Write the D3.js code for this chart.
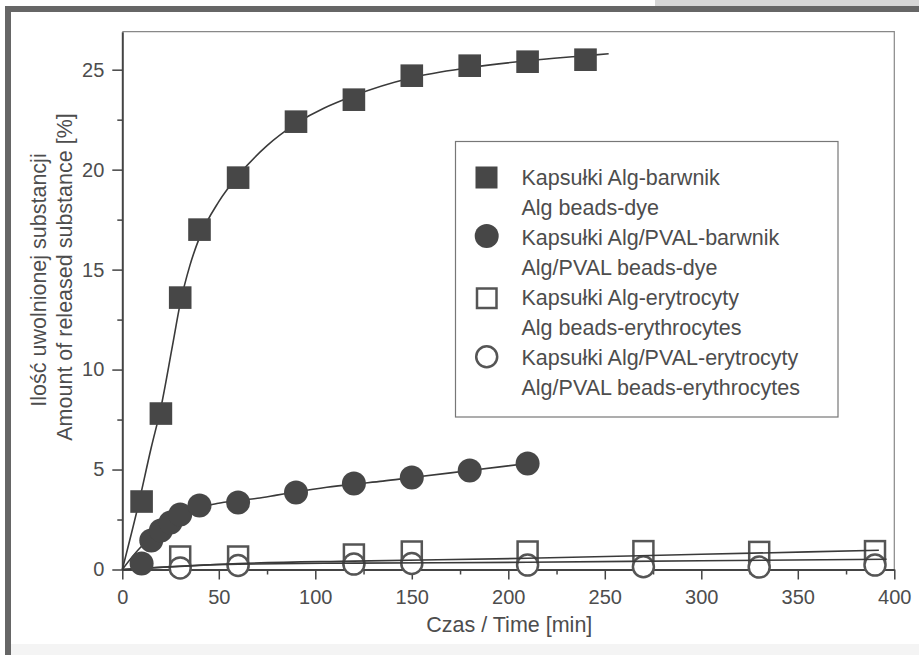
<!DOCTYPE html>
<html>
<head>
<meta charset="utf-8">
<script src="https://cdn.jsdelivr.net/npm/d3@7"></script>
<style>
  body { margin: 0; background: #fff; }
  text { font-family: "Liberation Sans", Arial, sans-serif; fill: #4d4d4d; }
</style>
</head>
<body>
<div id="chart"></div>
<script>
// Kapsulki Alg - barwnik (filled squares)
var algDyeTime = [10, 20, 30, 40, 60, 90, 120, 150, 180, 210, 240];
var algDyeVal = [3.4, 7.8, 13.6, 17.0, 19.6, 22.4, 23.5, 24.7, 25.2, 25.4, 25.5];

// Kapsulki Alg/PVAL - barwnik (filled circles)
var pvalDyeTime = [10, 15, 20, 25, 30, 40, 60, 90, 120, 150, 180, 210];
var pvalDyeVal = [0.3, 1.45, 1.95, 2.35, 2.75, 3.2, 3.35, 3.85, 4.3, 4.6, 4.95, 5.3];

// Kapsulki Alg - erytrocyty (open squares)
var algEryTime = [30, 60, 120, 150, 210, 270, 330, 390];
var algEryVal = [0.65, 0.65, 0.75, 0.9, 0.9, 0.92, 0.88, 0.92];

// Kapsulki Alg/PVAL - erytrocyty (open circles)
var pvalEryTime = [30, 60, 120, 150, 210, 270, 330, 390];
var pvalEryVal = [0.08, 0.2, 0.27, 0.3, 0.22, 0.14, 0.12, 0.22];

// fitted curves as drawn in the figure
var algDyeFitTime = [0, 8, 15, 20, 26, 30, 35, 40, 50, 60, 75, 90, 120, 150, 180, 210, 240, 252];
var algDyeFitVal = [0, 3.1, 6.1, 8.1, 11.2, 13.3, 15.2, 16.6, 18.4, 19.7, 21.2, 22.3, 23.7, 24.6, 25.1, 25.45, 25.7, 25.8];
var pvalDyeFitTime = [0, 9, 15, 20, 25, 30, 40, 49, 60, 70, 80, 90, 106, 120, 135, 150, 180, 210];
var pvalDyeFitVal = [0, 1.06, 1.6, 2.0, 2.4, 2.7, 3.1, 3.3, 3.45, 3.56, 3.72, 3.88, 4.11, 4.27, 4.42, 4.6, 4.95, 5.3];
var algEryFitTime = [0, 60, 120, 210, 300, 392];
var algEryFitVal = [0, 0.3, 0.42, 0.56, 0.76, 0.96];
var pvalEryFitTime = [0, 60, 120, 210, 300, 396];
var pvalEryFitVal = [0, 0.27, 0.32, 0.36, 0.44, 0.51];

var legendLines = [
    "Kapsułki Alg-barwnik", "Alg beads-dye",
    "Kapsułki Alg/PVAL-barwnik", "Alg/PVAL beads-dye",
    "Kapsułki Alg-erytrocyty", "Alg beads-erythrocytes",
    "Kapsułki Alg/PVAL-erytrocyty", "Alg/PVAL beads-erythrocytes"
];

var svgWidth = 919;
var svgHeight = 655;

var margin = { top: 31.7, left: 122.3, right: 24.7, bottom: 85.5 };
var width = svgWidth - margin.left - margin.right;
var height = svgHeight - margin.top - margin.bottom;

var svg = d3.select("#chart")
    .append("svg")
    .attr("width", svgWidth)
    .attr("height", svgHeight);

// scan border bits
svg.append("rect").attr("x", 655).attr("y", 0).attr("width", 264).attr("height", 6).attr("fill", "#d6d6d6");
svg.append("rect").attr("x", 5).attr("y", 6).attr("width", 914).attr("height", 6).attr("fill", "#666");
svg.append("rect").attr("x", 5).attr("y", 6).attr("width", 6).attr("height", 649).attr("fill", "#666");
svg.append("rect").attr("x", 11).attr("y", 644).attr("width", 908).attr("height", 11).attr("fill", "#f4f4f4");

var chartGroup = svg.append("g")
    .attr("transform", `translate(${margin.left}, ${margin.top})`);

var xScale = d3.scaleLinear().domain([0, 400]).range([0, width]);
var yScale = d3.scaleLinear().domain([0, 26.9]).range([height, 0]);

// top and right frame
chartGroup.append("path")
    .attr("d", `M0,0H${width}V${height}`)
    .attr("fill", "none")
    .attr("stroke", "#888")
    .attr("stroke-width", 1.2);

// minor ticks
chartGroup.append("g")
    .attr("transform", `translate(0, ${height})`)
    .call(d3.axisBottom(xScale).tickValues(d3.range(25, 400, 50)).tickSize(5).tickFormat(""))
    .call(g => g.select(".domain").remove())
    .selectAll("line").attr("stroke", "#444").attr("stroke-width", 1.5);
chartGroup.append("g")
    .call(d3.axisLeft(yScale).tickValues(d3.range(2.5, 26, 5)).tickSize(5).tickFormat(""))
    .call(g => g.select(".domain").remove())
    .selectAll("line").attr("stroke", "#444").attr("stroke-width", 1.5);

// major axes
var bottomAxis = d3.axisBottom(xScale).tickValues(d3.range(0, 401, 50)).tickSize(10).tickSizeOuter(0).tickPadding(10);
var leftAxis = d3.axisLeft(yScale).tickValues(d3.range(0, 26, 5)).tickSize(10).tickSizeOuter(0).tickPadding(8);

var xAxis = chartGroup.append("g")
    .attr("transform", `translate(0, ${height})`)
    .call(bottomAxis);
var yAxis = chartGroup.append("g")
    .call(leftAxis);

[xAxis, yAxis].forEach(function(ax) {
    ax.select(".domain").attr("stroke", "#444").attr("stroke-width", 2);
    ax.selectAll("line").attr("stroke", "#444").attr("stroke-width", 1.5);
    ax.selectAll("text")
        .style("font-size", "20px")
        .style("font-family", "'Liberation Sans', Arial, sans-serif")
        .attr("fill", "#4d4d4d");
});

// axis titles
chartGroup.append("text")
    .attr("x", width / 2 + 1)
    .attr("y", height + 63)
    .attr("text-anchor", "middle")
    .style("font-size", "21.5px")
    .text("Czas / Time [min]");

chartGroup.append("text")
    .attr("transform", "rotate(-90)")
    .attr("x", -(280 - margin.top))
    .attr("y", 46 - margin.left)
    .attr("text-anchor", "middle")
    .style("font-size", "21.5px")
    .text("Ilość uwolnionej substancji");

chartGroup.append("text")
    .attr("transform", "rotate(-90)")
    .attr("x", -(277 - margin.top))
    .attr("y", 72 - margin.left)
    .attr("text-anchor", "middle")
    .style("font-size", "21.5px")
    .text("Amount of released substance [%]");

function toPoints(times, vals) {
    return times.map((t, i) => [t, vals[i]]);
}

var line = d3.line()
    .x(d => xScale(d[0]))
    .y(d => yScale(d[1]))
    .curve(d3.curveMonotoneX);

// open markers first, erythrocyte fits over them
chartGroup.selectAll(".algEry")
    .data(toPoints(algEryTime, algEryVal))
    .enter()
    .append("rect")
    .attr("x", d => xScale(d[0]) - 10)
    .attr("y", d => yScale(d[1]) - 10)
    .attr("width", 20)
    .attr("height", 20)
    .attr("fill", "none")
    .attr("stroke", "#555")
    .attr("stroke-width", 2.5);

chartGroup.selectAll(".pvalEry")
    .data(toPoints(pvalEryTime, pvalEryVal))
    .enter()
    .append("circle")
    .attr("cx", d => xScale(d[0]))
    .attr("cy", d => yScale(d[1]))
    .attr("r", 10.5)
    .attr("fill", "#fff")
    .attr("stroke", "#555")
    .attr("stroke-width", 2.5);

[[algEryFitTime, algEryFitVal], [pvalEryFitTime, pvalEryFitVal],
 [algDyeFitTime, algDyeFitVal], [pvalDyeFitTime, pvalDyeFitVal]].forEach(function(f) {
    chartGroup.append("path")
        .datum(toPoints(f[0], f[1]))
        .attr("d", line)
        .attr("fill", "none")
        .attr("stroke", "#3a3a3a")
        .attr("stroke-width", 1.6);
});

// filled markers
chartGroup.selectAll(".pvalDye")
    .data(toPoints(pvalDyeTime, pvalDyeVal))
    .enter()
    .append("circle")
    .attr("cx", d => xScale(d[0]))
    .attr("cy", d => yScale(d[1]))
    .attr("r", 12)
    .attr("fill", "#474747");

chartGroup.selectAll(".algDye")
    .data(toPoints(algDyeTime, algDyeVal))
    .enter()
    .append("rect")
    .attr("x", d => xScale(d[0]) - 11.3)
    .attr("y", d => yScale(d[1]) - 11.3)
    .attr("width", 22.6)
    .attr("height", 22.6)
    .attr("fill", "#474747");

// legend
var legend = svg.append("g");
legend.append("rect")
    .attr("x", 455.5)
    .attr("y", 141.5)
    .attr("width", 382.5)
    .attr("height", 275.5)
    .attr("fill", "#fff")
    .attr("stroke", "#777")
    .attr("stroke-width", 1.2);

legend.selectAll("text")
    .data(legendLines)
    .enter()
    .append("text")
    .attr("x", 521.5)
    .attr("y", (d, i) => 185 + i * 30)
    .style("font-size", "21.5px")
    .text(d => d);

legend.append("rect").attr("x", 475.5).attr("y", 166.5).attr("width", 22).attr("height", 22).attr("fill", "#474747");
legend.append("circle").attr("cx", 486.7).attr("cy", 236).attr("r", 12).attr("fill", "#474747");
legend.append("rect").attr("x", 477).attr("y", 288.5).attr("width", 19.5).attr("height", 19.5)
    .attr("fill", "none").attr("stroke", "#555").attr("stroke-width", 2.5);
legend.append("circle").attr("cx", 486.7).attr("cy", 356.7).attr("r", 10.5)
    .attr("fill", "none").attr("stroke", "#555").attr("stroke-width", 2.5);
</script>
</body>
</html>
